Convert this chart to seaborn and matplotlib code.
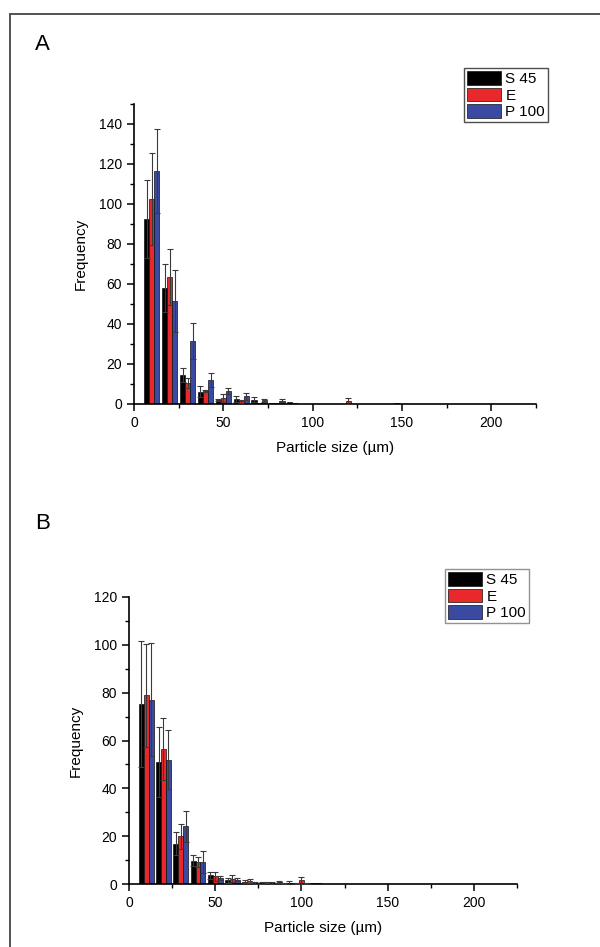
import numpy as np
import pandas as pd
import matplotlib
matplotlib.use("Agg")
import matplotlib.pyplot as plt
from matplotlib.ticker import MultipleLocator
from matplotlib.patches import Rectangle
import seaborn as sns

# Particle size bin centres (µm)
sizes = [10, 20, 30, 40, 50, 60, 70, 80, 90, 100,
         110, 120, 130, 140, 150, 160, 170, 180, 190, 200]
groups = ["S 45", "E", "P 100"]
colors = ["#000000", "#e8282b", "#3a4aa2"]

# Panel A: mean frequency and error per bin
a_s45 = [92.5, 58.0, 14.3, 6.2, 2.0, 2.5, 2.2, 0.3, 0.8, 0.2,
         0.1, 0.2, 0.1, 0.2, 0.7, 0.2, 0.2, 0.1, 0.1, 0.1]
a_e = [102.5, 63.5, 10.5, 6.7, 3.0, 1.3, 0.3, 0.3, 0.3, 0.2,
       0.1, 1.5, 0.1, 0.1, 0.1, 0.2, 0.2, 0.1, 0.1, 0.1]
a_p100 = [116.5, 51.5, 31.3, 12.0, 6.5, 3.8, 1.8, 1.7, 0.2, 0.2,
          0.1, 0.1, 0.1, 0.1, 0.2, 0.2, 0.1, 0.2, 0.1, 0.1]
a_s45_err = [19.5, 12.0, 3.5, 2.6, 0.5, 1.3, 1.3, 0, 0, 0,
             0, 0, 0, 0, 0, 0, 0, 0, 0, 0]
a_e_err = [23.0, 13.8, 2.5, 0.5, 2.2, 0.7, 0, 0, 0, 0,
           0, 1.5, 0, 0, 0, 0, 0, 0, 0, 0]
a_p100_err = [20.8, 15.5, 9.0, 3.5, 1.5, 1.7, 0.9, 0.6, 0, 0,
              0, 0, 0, 0, 0, 0, 0, 0, 0, 0]

# Panel B: mean frequency and error per bin
b_s45 = [75.4, 51.0, 16.9, 9.8, 3.6, 1.5, 1.0, 0.5, 0.8, 0.3,
         0.3, 0.1, 0.1, 0.1, 0.1, 0.1, 0.1, 0.1, 0.1, 0.1]
b_e = [78.9, 56.4, 19.9, 9.3, 3.2, 2.2, 1.3, 0.7, 0.4, 1.5,
       0.3, 0.1, 0.1, 0.1, 0.1, 0.1, 0.1, 0.1, 0.1, 0.1]
b_p100 = [77.1, 52.0, 24.1, 9.3, 2.5, 1.8, 0.4, 0.4, 0.3, 0.2,
          0.2, 0.1, 0.1, 0.1, 0.1, 0.1, 0.1, 0.1, 0.1, 0.1]
b_s45_err = [26.3, 14.5, 4.7, 2.3, 1.4, 1.0, 0.5, 0.3, 0.4, 0.2,
             0, 0, 0, 0, 0, 0, 0, 0, 0, 0]
b_e_err = [21.5, 13.0, 5.3, 2.2, 1.8, 1.5, 0.7, 0.3, 0.2, 1.3,
           0, 0, 0, 0, 0, 0, 0, 0, 0, 0]
b_p100_err = [23.5, 12.3, 6.4, 4.7, 1.0, 0.7, 0.3, 0.3, 1.0, 0.2,
              0, 0, 0, 0, 0, 0, 0, 0, 0, 0]

sns.set_style("ticks")
plt.rcParams["font.family"] = ["Liberation Sans", "DejaVu Sans"]
plt.rcParams["axes.linewidth"] = 1.2
plt.rcParams["text.color"] = "black"
plt.rcParams["axes.labelcolor"] = "black"
plt.rcParams["axes.edgecolor"] = "black"
plt.rcParams["xtick.color"] = "black"
plt.rcParams["ytick.color"] = "black"


def long_frame(series):
    rows = []
    for g, vals in zip(groups, series):
        for s, v in zip(sizes, vals):
            rows.append({"size": s, "group": g, "freq": v})
    return pd.DataFrame(rows)


def draw_panel(ax, series, errors, ymax, legend_anchor, legend_frame):
    df = long_frame(series)
    sns.barplot(data=df, x="size", y="freq", hue="group", hue_order=groups,
                native_scale=True, dodge=True, width=0.85, saturation=1,
                palette=colors, edgecolor="#111111", linewidth=0.5,
                errorbar=None, ax=ax)
    for container, err in zip(ax.containers, errors):
        err = np.asarray(err, dtype=float)
        xs = np.array([b.get_x() + b.get_width() / 2 for b in container])
        ys = np.array([b.get_height() for b in container])
        m = err > 0
        ax.errorbar(xs[m], ys[m], yerr=err[m], fmt="none",
                    ecolor="#3a3a3a", elinewidth=0.8, capsize=2.5,
                    capthick=0.8, zorder=5)
    ax.set_xlim(0, 225)
    ax.set_ylim(0, ymax)
    ax.xaxis.set_major_locator(MultipleLocator(50))
    ax.xaxis.set_minor_locator(MultipleLocator(25))
    ax.yaxis.set_major_locator(MultipleLocator(20))
    ax.yaxis.set_minor_locator(MultipleLocator(10))
    ax.tick_params(which="major", direction="out", length=5, width=1.1,
                   labelsize=10, colors="black")
    ax.tick_params(which="minor", direction="out", length=3, width=1.0)
    ax.set_xlabel("Particle size (µm)", fontsize=11, labelpad=8)
    ax.set_ylabel("Frequency", fontsize=11, labelpad=8)
    sns.despine(ax=ax)
    handles, labels = ax.get_legend_handles_labels()
    leg = ax.legend(handles, labels, loc="upper right",
                    bbox_to_anchor=legend_anchor,
                    bbox_transform=ax.figure.transFigure,
                    fontsize=11, frameon=True, fancybox=False,
                    handlelength=2.2, handleheight=1.0, handletextpad=0.3,
                    labelspacing=0.1, borderpad=0.2, borderaxespad=0)
    leg.get_frame().set_edgecolor(legend_frame)
    leg.get_frame().set_linewidth(1.0)


fig = plt.figure(figsize=(6.0, 9.47), dpi=100)

ax_a = fig.add_axes([0.2233, 0.5734, 0.67, 0.3168])
draw_panel(ax_a, [a_s45, a_e, a_p100], [a_s45_err, a_e_err, a_p100_err],
           150, (548 / 600, 1 - 68 / 947), "#222222")

ax_b = fig.add_axes([0.215, 0.0665, 0.6467, 0.3031])
draw_panel(ax_b, [b_s45, b_e, b_p100], [b_s45_err, b_e_err, b_p100_err],
           120, (529 / 600, 1 - 569 / 947), "#777777")

fig.text(35 / 600, 1 - 45 / 947, "A", fontsize=16, va="center", ha="left")
fig.text(35 / 600, 1 - 523 / 947, "B", fontsize=16, va="center", ha="left")

fig.patches.append(Rectangle((10 / 600, -0.1), 1.2, 0.1 + (1 - 14 / 947),
                             transform=fig.transFigure, fill=False,
                             edgecolor="#444444", linewidth=1.3))

fig.savefig("out.png", dpi=100, facecolor="white")
